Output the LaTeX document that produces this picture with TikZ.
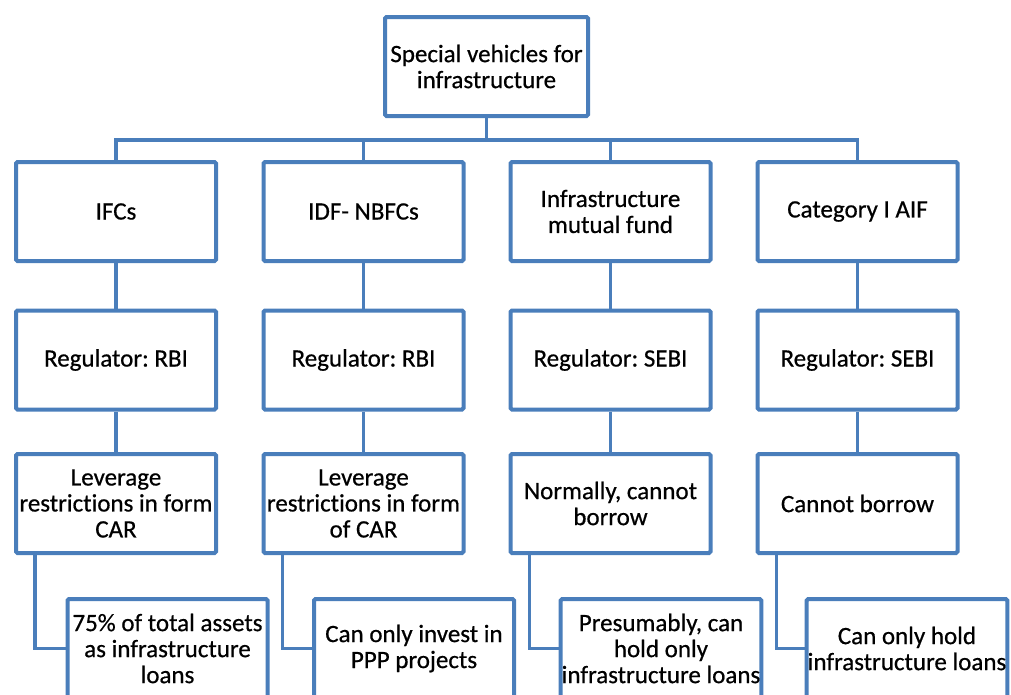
\documentclass[tikz,border=0pt]{standalone}
\usepackage{fontspec}
\setmainfont{Carlito}[Ligatures=NoCommon, FakeBold=0.6]
\usetikzlibrary{positioning,calc}
\definecolor{azul}{RGB}{74,126,187}
\tikzset{
  bloque/.style={draw=azul, line width=4pt, rounded corners=1.5pt, fill=white, align=center,
    minimum width=200pt, minimum height=99pt, inner sep=1pt, font=\fontsize{25}{26}\selectfont},
  linea/.style={draw=azul, line width=3.5pt},
}
\frenchspacing
\begin{document}
\begin{tikzpicture}[x=1pt, y=-1pt]
  \useasboundingbox (0,0) rectangle (1011,694);
  \clip (0,0) rectangle (1011,694);
  \node[bloque, minimum width=203pt] (top) at (486.5,66.5) {Special vehicles for\\infrastructure};
  \coordinate (bus) at (0,140);
  % columna 1
  \node[bloque] (a1) at (116,211.5) {IFCs};
  \node[bloque] (a2) at (116,360) {Regulator: RBI};
  \node[bloque] (a3) at (116,503.5) {Leverage\\restrictions in form\\CAR};
  \node[bloque] (a4) at (167.5,648.5) {75\% of total assets\\as infrastructure\\loans};
  % columna 2
  \node[bloque] (b1) at (363.5,211.5) {IDF- NBFCs};
  \node[bloque] (b2) at (363.5,360) {Regulator: RBI};
  \node[bloque] (b3) at (363.5,503.5) {Leverage\\restrictions in form\\of CAR};
  \node[bloque] (b4) at (414,648.5) {Can only invest in\\PPP projects};
  % columna 3
  \node[bloque] (c1) at (610.5,211.5) {Infrastructure\\mutual fund};
  \node[bloque] (c2) at (610.5,360) {Regulator: SEBI};
  \node[bloque] (c3) at (610.5,503.5) {Normally, cannot\\borrow};
  \node[bloque] (c4) at (661,648.5) {Presumably, can\\hold only\\infrastructure loans};
  % columna 4
  \node[bloque] (d1) at (857.5,211.5) {Category I AIF};
  \node[bloque] (d2) at (857.5,360) {Regulator: SEBI};
  \node[bloque] (d3) at (857.5,503.5) {Cannot borrow};
  \node[bloque] (d4) at (907,648.5) {Can only hold\\infrastructure loans};
  % conexiones
  \draw[linea] (top.south) -- (top.south |- bus);
  \draw[linea] (a1.north) |- (bus -| d1.north) -- (d1.north);
  \draw[linea] (b1.north) -- (b1.north |- bus);
  \draw[linea] (c1.north) -- (c1.north |- bus);
  \foreach \k in {a,b,c,d}{
    \draw[linea] (\k1) -- (\k2);
    \draw[linea] (\k2) -- (\k3);
    \draw[linea] ($(\k3.south west)+(21,0)$) |- (\k4.west);
  }
\end{tikzpicture}
\end{document}
